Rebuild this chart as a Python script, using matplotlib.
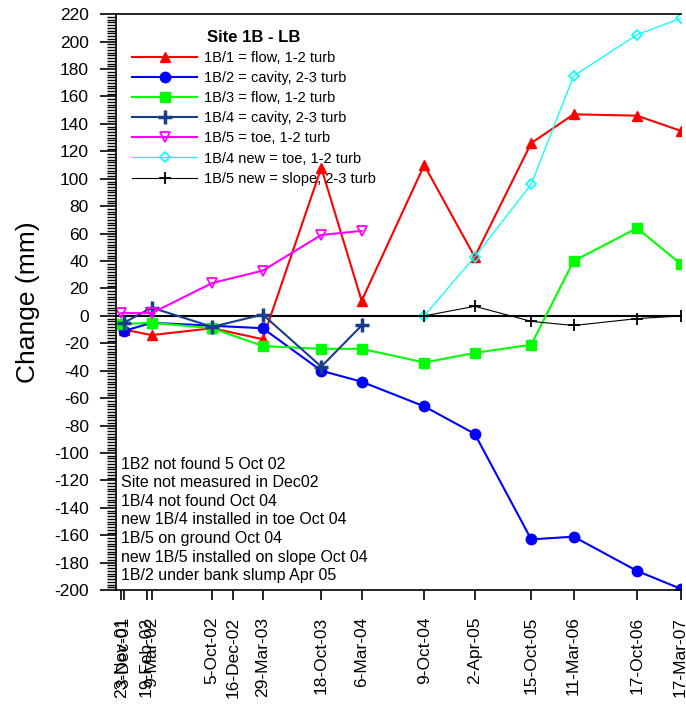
import datetime as dt
import matplotlib
matplotlib.use("Agg")
import matplotlib.pyplot as plt
from matplotlib.ticker import MultipleLocator

plt.rcParams['font.family'] = ['Liberation Sans', 'DejaVu Sans']
plt.rcParams['axes.unicode_minus'] = False

TICK_DATES = ["2001-11-23", "2001-12-03", "2002-02-19", "2002-03-09", "2002-10-05",
              "2002-12-16", "2003-03-29", "2003-10-18", "2004-03-06", "2004-10-09",
              "2005-04-02", "2005-10-15", "2006-03-11", "2006-10-17", "2007-03-17"]
TICK_LABELS = ["23-Nov-01", "3-Dec-01", "19-Feb-02", "9-Mar-02", "5-Oct-02",
               "16-Dec-02", "29-Mar-03", "18-Oct-03", "6-Mar-04", "9-Oct-04",
               "2-Apr-05", "15-Oct-05", "11-Mar-06", "17-Oct-06", "17-Mar-07"]

# 1B/1 flow
dates_1 = ["2001-12-03", "2002-03-09", "2002-10-05", "2003-03-29", "2003-10-18", "2004-03-06",
           "2004-10-09", "2005-04-02", "2005-10-15", "2006-03-11", "2006-10-17", "2007-03-17"]
change_1 = [-10, -14, -9, -17, 108, 11, 110, 43, 126, 147, 146, 135]

# 1B/2 cavity (not found 5 Oct 02)
dates_2 = ["2001-12-03", "2002-03-09", "2003-03-29", "2003-10-18", "2004-03-06",
           "2004-10-09", "2005-04-02", "2005-10-15", "2006-03-11", "2006-10-17", "2007-03-17"]
change_2 = [-11, -5, -9, -40, -48, -66, -86, -163, -161, -186, -199]

# 1B/3 flow
dates_3 = ["2001-11-23", "2002-03-09", "2002-10-05", "2003-03-29", "2003-10-18", "2004-03-06",
           "2004-10-09", "2005-04-02", "2005-10-15", "2006-03-11", "2006-10-17", "2007-03-17"]
change_3 = [-6, -5, -9, -22, -24, -24, -34, -27, -21, 40, 64, 38]

# 1B/4 cavity
dates_4 = ["2001-12-03", "2002-03-09", "2002-10-05", "2003-03-29", "2003-10-18", "2004-03-06"]
change_4 = [-5, 6, -8, 1, -37, -7]

# 1B/5 toe
dates_5 = ["2001-11-23", "2002-03-09", "2002-10-05", "2003-03-29", "2003-10-18", "2004-03-06"]
change_5 = [2, 2, 24, 33, 59, 62]

# new pins from Oct 04
dates_new = ["2004-10-09", "2005-04-02", "2005-10-15", "2006-03-11", "2006-10-17", "2007-03-17"]
change_4_new = [0, 43, 96, 175, 205, 217]
change_5_new = [0, 7, -4, -7, -2, 0]

NOTES = ["1B2 not found 5 Oct 02",
         "Site not measured in Dec02",
         "1B/4 not found Oct 04",
         "new 1B/4 installed in toe Oct 04",
         "1B/5 on ground Oct 04",
         "new 1B/5 installed on slope Oct 04",
         "1B/2 under bank slump Apr 05"]


def to_dates(values):
    return [dt.datetime.strptime(v, "%Y-%m-%d") for v in values]


def main():
    fig = plt.figure(figsize=(6.86, 7.11), dpi=100)
    ax = fig.add_axes([0.169, 0.170, 0.824, 0.810])

    ax.axhline(0, color="black", lw=1.5, zorder=1)

    ax.plot(to_dates(dates_1), change_1, color="#ff0000", lw=1.5, marker="^", ms=7,
            label="1B/1 = flow, 1-2 turb")
    ax.plot(to_dates(dates_2), change_2, color="#0000ff", lw=1.5, marker="o", ms=7.5,
            label="1B/2 = cavity, 2-3 turb")
    ax.plot(to_dates(dates_3), change_3, color="#00ff00", lw=1.5, marker="s", ms=7,
            label="1B/3 = flow, 1-2 turb")
    ax.plot(to_dates(dates_4), change_4, color="#173e8c", lw=1.5, marker="+", ms=10, mew=2.5,
            label="1B/4 = cavity, 2-3 turb")
    ax.plot(to_dates(dates_5), change_5, color="#ff00ff", lw=1.5, marker="v", ms=7.5,
            mfc="none", mew=1.3, label="1B/5 = toe, 1-2 turb")
    ax.plot(to_dates(dates_new), change_4_new, color="#00ffff", lw=0.9, marker="D", ms=5.5,
            mfc="none", mew=1.2, label="1B/4 new = toe, 1-2 turb")
    ax.plot(to_dates(dates_new), change_5_new, color="black", lw=0.8, marker="+", ms=9,
            mew=1.3, label="1B/5 new = slope, 2-3 turb")

    ax.set_xlim(dt.datetime(2001, 11, 5), dt.datetime(2007, 3, 19))
    ax.set_ylim(-200, 220)

    ax.set_xticks(to_dates(TICK_DATES))
    ax.set_xticklabels(TICK_LABELS, rotation=90, fontsize=12.5, va="top")
    ax.tick_params(axis="x", length=7, width=1.2, pad=12)

    ax.yaxis.set_major_locator(MultipleLocator(20))
    ax.yaxis.set_minor_locator(MultipleLocator(2))
    ax.tick_params(axis="y", which="major", length=11.5, width=1.2, pad=8, labelsize=12.5)
    ax.tick_params(axis="y", which="minor", length=6.5, width=1)

    ax.spines["right"].set_visible(False)
    for side in ["left", "top", "bottom"]:
        ax.spines[side].set_linewidth(1.2)

    ax.set_ylabel("Change (mm)", fontsize=19)
    ax.yaxis.set_label_coords(-0.134, 0.5)

    leg = ax.legend(loc="upper left", bbox_to_anchor=(0.028, 0.973), frameon=False,
                    fontsize=10.5, title="Site 1B - LB", handlelength=4.5,
                    handletextpad=0.45, labelspacing=0.42, borderpad=0, borderaxespad=0)
    leg.get_title().set_fontweight("bold")
    leg.get_title().set_fontsize(12)

    ax.text(0.009, 0.012, "\n".join(NOTES), transform=ax.transAxes, fontsize=11.5,
            va="bottom", ha="left", linespacing=1.3)

    plt.savefig("out.png", dpi=100)


if __name__ == "__main__":
    main()
